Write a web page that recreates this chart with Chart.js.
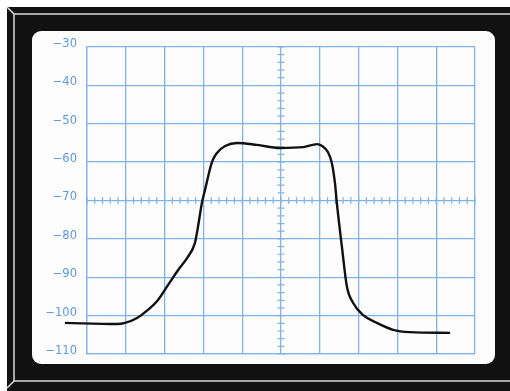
<!DOCTYPE html>
<html lang="en">
<head>
    <meta charset="UTF-8">
    <title>Filter response</title>
    <script src="https://cdn.jsdelivr.net/npm/chart.js"></script>
    <style>
        html, body { margin: 0; padding: 0; background: #fff; }
        #wrap { width: 510px; height: 391px; position: relative; }
    </style>
</head>
<body>
    <div id="wrap"><canvas id="chart1" width="510" height="391"></canvas></div>
    <script>
        // Trace (x in divisions from centre, y in dB)
        const traceX = [-5.57, -4.23, -4.02, -3.71, -3.43, -3.17, -2.91, -2.65, -2.40, -2.22, -2.14, -2.04, -1.96,
            -1.78, -1.65, -1.44, -1.13, -0.62, -0.03, 0.57, 0.93, 1.06, 1.21, 1.31, 1.39, 1.44, 1.57, 1.70, 1.86,
            2.11, 2.47, 2.89, 3.32, 4.36];
        const traceY = [-101.9, -102.2, -101.9, -100.6, -98.5, -95.9, -92.0, -88.1, -84.7, -81.1, -76.9, -70.7, -67.3,
            -60.0, -57.6, -55.8, -55.0, -55.5, -56.3, -56.1, -55.3, -55.8, -57.4, -60.2, -65.4, -70.7, -82.1, -92.5, -96.7,
            -99.8, -101.9, -103.7, -104.3, -104.5];
        const yTicks = [-30, -40, -50, -60, -70, -80, -90, -100, -110];

        const gridBlue = "#82b3e6";
        const labelBlue = "#5e98d8";

        // Black bezel and white screen behind the plot
        const bezel = {
            id: "bezel",
            beforeDraw(chart) {
                const c = chart.ctx;
                c.save();
                c.fillStyle = "#fff";
                c.fillRect(0, 0, 510, 391);
                c.fillStyle = "#111";
                c.fillRect(7, 7, 503, 384);
                c.strokeStyle = "#d8d8d8";
                c.lineWidth = 1.5;
                c.beginPath();
                c.moveTo(7, 7); c.lineTo(14, 14);
                c.moveTo(520, 14); c.lineTo(14, 14); c.lineTo(14, 381); c.lineTo(520, 381);
                c.moveTo(14, 381); c.lineTo(7, 388);
                c.stroke();
                c.fillStyle = "#fdfdfd";
                c.beginPath();
                c.roundRect(32, 31, 463, 333, 9);
                c.fill();
                c.restore();
            }
        };

        // Small division marks on the centre cross
        const centreMarks = {
            id: "centreMarks",
            beforeDatasetsDraw(chart) {
                const c = chart.ctx;
                const xs = chart.scales.x, ys = chart.scales.y;
                const y0 = ys.getPixelForValue(-70), x0 = xs.getPixelForValue(0);
                c.save();
                c.strokeStyle = gridBlue;
                c.lineWidth = 1.2;
                c.beginPath();
                for (let v = -5; v <= 5.001; v += 0.2) {
                    const px = xs.getPixelForValue(v);
                    c.moveTo(px, y0 - 3.5); c.lineTo(px, y0 + 3.5);
                }
                for (let v = -110; v <= -29.99; v += 2) {
                    const py = ys.getPixelForValue(v);
                    c.moveTo(x0 - 3.5, py); c.lineTo(x0 + 3.5, py);
                }
                c.stroke();
                c.restore();
            }
        };

        new Chart(document.getElementById("chart1"), {
            type: "line",
            data: {
                datasets: [{
                    data: traceX.map((x, i) => ({ x, y: traceY[i] })),
                    borderColor: "#111",
                    borderWidth: 2.4,
                    pointRadius: 0,
                    fill: false,
                    cubicInterpolationMode: "monotone",
                    clip: false
                }]
            },
            options: {
                responsive: false,
                animation: false,
                layout: { padding: { left: 0, top: 47, right: 35, bottom: 37 } },
                plugins: { legend: { display: false }, tooltip: { enabled: false } },
                scales: {
                    x: {
                        type: "linear",
                        min: -5,
                        max: 5,
                        ticks: { display: false, stepSize: 1 },
                        grid: { color: gridBlue, lineWidth: 1.3, drawTicks: false },
                        border: { color: gridBlue, width: 1.3 },
                        afterFit(scale) { scale.height = 0; }
                    },
                    y: {
                        min: -110,
                        max: -30,
                        afterBuildTicks(scale) { scale.ticks = yTicks.map(v => ({ value: v })); },
                        ticks: {
                            color: labelBlue,
                            padding: 10,
                            labelOffset: -3,
                            font: { family: "DejaVu Sans", size: 11.5 },
                            callback: v => "\u2212" + Math.abs(v)
                        },
                        grid: { color: gridBlue, lineWidth: 1.3, drawTicks: false },
                        border: { color: gridBlue, width: 1.3 },
                        afterFit(scale) { scale.width = 87; }
                    }
                }
            },
            plugins: [bezel, centreMarks]
        });
    </script>
</body>
</html>
